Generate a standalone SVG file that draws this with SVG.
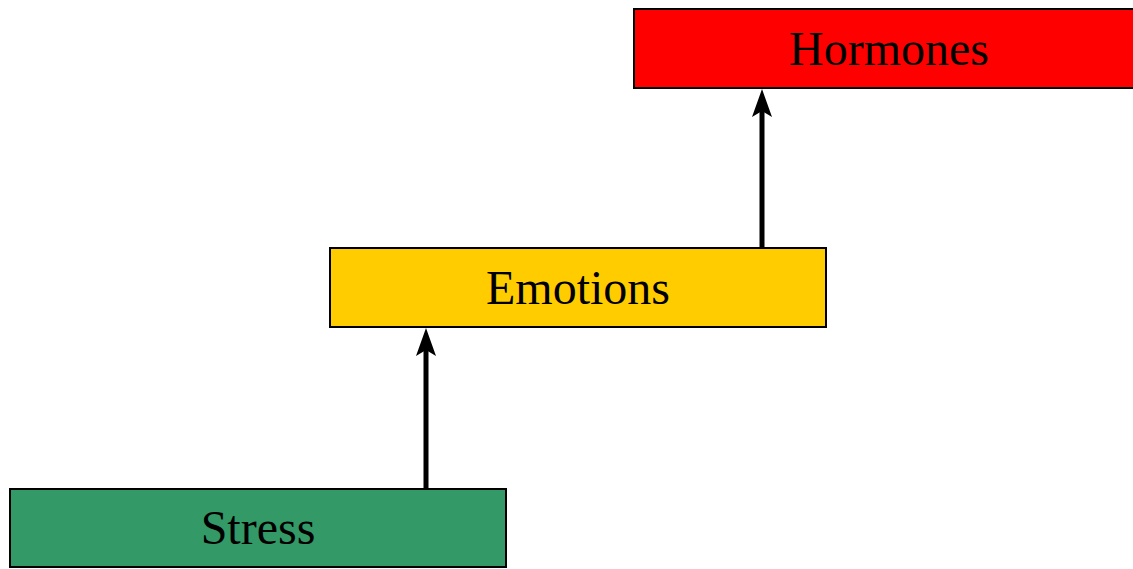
<svg xmlns="http://www.w3.org/2000/svg" width="1133" height="569" viewBox="0 0 1133 569">
<style>
.box{stroke:#000;stroke-width:2}
.lbl{font-family:"Liberation Serif","Times New Roman",serif;font-size:48px;fill:#000;text-anchor:middle}
.conn{stroke:#000;stroke-width:5;fill:none}
</style>
<defs>
<marker id="ah" markerUnits="userSpaceOnUse" viewBox="-30 -12 32 24" markerWidth="32" markerHeight="24" refX="-22" refY="0" orient="auto">
<path d="M0,0 L-28,-10 L-22,0 L-28,10 Z" fill="#000"/>
</marker>
</defs>
<rect width="1133" height="569" fill="#fff"/>
<g id="connectors">
<line class="conn" x1="426" y1="489" x2="426" y2="350" marker-end="url(#ah)"/>
<line class="conn" x1="762" y1="249" x2="762" y2="111" marker-end="url(#ah)"/>
</g>
<g id="hormones">
<rect class="box" x="634" y="9" width="511" height="79" fill="#ff0000"/>
<text class="lbl" x="889" y="65">Hormones</text>
</g>
<g id="emotions">
<rect class="box" x="330" y="248" width="496" height="79" fill="#ffcc00"/>
<text class="lbl" x="578" y="304">Emotions</text>
</g>
<g id="stress">
<rect class="box" x="10" y="489" width="496" height="78" fill="#339966"/>
<text class="lbl" x="258" y="544">Stress</text>
</g>
</svg>
